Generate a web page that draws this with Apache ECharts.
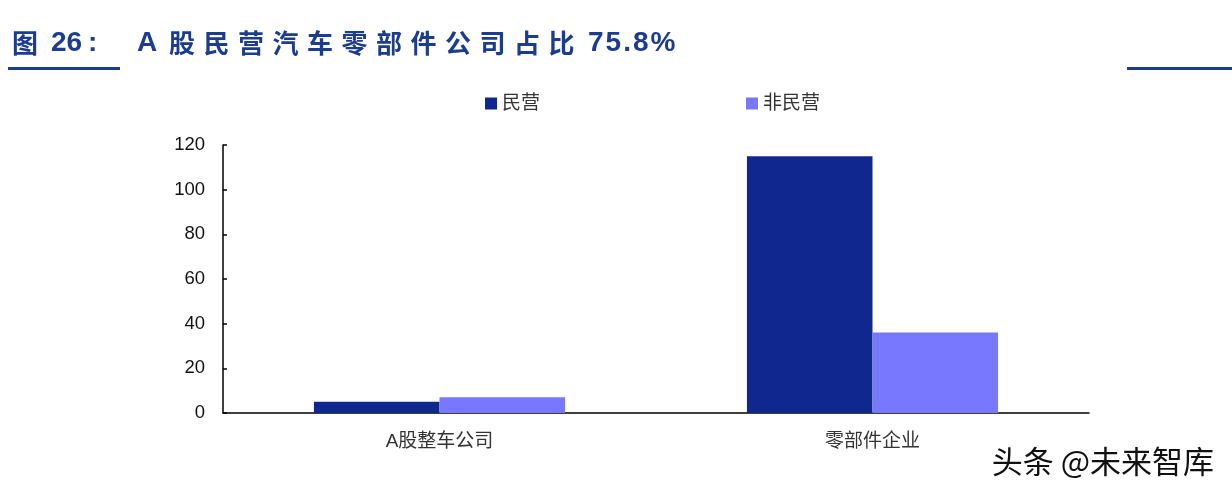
<!DOCTYPE html>
<html>
<head>
<meta charset="utf-8">
<script src="https://cdn.jsdelivr.net/npm/echarts@6/dist/echarts.min.js"></script>
<style>
  html, body { margin: 0; padding: 0; background: #fff; }
  #wrap { position: relative; width: 1232px; height: 496px; overflow: hidden; }
  #chart { position: absolute; left: 0; top: 0; width: 1232px; height: 496px; }
  .t { position: absolute; color: #1c3c90; font-weight: bold; white-space: pre; }
  .lat { font-family: "Liberation Sans", Arial, sans-serif; font-size: 28px; line-height: 28px; top: 28px; }
  .cjk { font-family: "Noto Sans CJK SC", sans-serif; font-size: 26px; line-height: 26px; top: 29px; letter-spacing: 8.5px; }
  .rule { position: absolute; height: 3px; background: #1c3c90; top: 67px; }
</style>
</head>
<body>
<div id="wrap">
  <div id="chart"></div>
  <span class="t cjk" style="left:12px;">图</span>
  <span class="t lat" style="left:51px;">26</span>
  <span class="t lat" style="left:88px;">:</span>
  <span class="t lat" style="left:137px;">A</span>
  <span class="t cjk" style="left:169px;">股民营汽车零部件公司占比</span>
  <span class="t lat" style="left:588px;letter-spacing:2px;">75.8%</span>
  <div class="rule" style="left:8px;width:112px;"></div>
  <div class="rule" style="left:1127px;width:105px;"></div>
</div>
<script>
const categories = ['A股整车公司', '零部件企业'];
const seriesNames = ['民营', '非民营'];
const privateValues = [5, 115];
const nonPrivateValues = [7, 36];
const yTicks = { min: 0, max: 120, interval: 20 };
const watermark = '头条 @未来智库';

const chart = echarts.init(document.getElementById('chart'), null, { renderer: 'canvas' });
const cjk = '"Liberation Sans", "Noto Sans CJK SC", sans-serif';
chart.setOption({
  animation: false,
  backgroundColor: '#fff',
  grid: { left: 223, right: 143, top: 145, bottom: 83 },
  legend: {
    data: seriesNames,
    left: 480, top: 89,
    itemWidth: 12, itemHeight: 12, itemGap: 206,
    icon: 'rect',
    textStyle: { fontFamily: cjk, fontSize: 19, color: '#333' }
  },
  xAxis: {
    type: 'category',
    data: categories,
    axisLine: { lineStyle: { color: '#000', width: 1.5 } },
    axisTick: { inside: true, length: 5, lineStyle: { color: '#000', width: 1.5 } },
    axisLabel: { fontFamily: cjk, fontSize: 19, color: '#333', margin: 19 }
  },
  yAxis: {
    type: 'value',
    min: yTicks.min, max: yTicks.max, interval: yTicks.interval,
    splitLine: { show: false },
    axisLine: { show: true, lineStyle: { color: '#000', width: 1.5 } },
    axisTick: { show: true, inside: true, length: 4, lineStyle: { color: '#000', width: 1.5 } },
    axisLabel: { fontFamily: cjk, fontSize: 18.5, color: '#111', margin: 18 }
  },
  series: [
    { name: seriesNames[0], type: 'bar', data: privateValues, barGap: '0%', barCategoryGap: '42%',
      itemStyle: { color: '#10278f' } },
    { name: seriesNames[1], type: 'bar', data: nonPrivateValues,
      itemStyle: { color: '#7878ff' } }
  ],
  graphic: [{
    type: 'text', right: 17, top: 445,
    style: { text: watermark, font: '31px "Noto Sans CJK SC", sans-serif', fill: '#111', stroke: '#fff', lineWidth: 2 }
  }]
});
</script>
</body>
</html>
